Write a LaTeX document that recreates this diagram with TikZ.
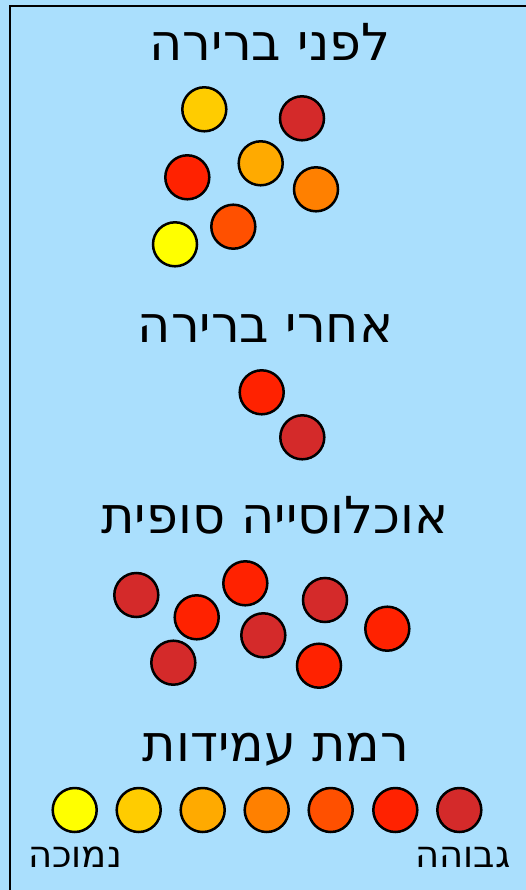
\documentclass[tikz,border=0pt]{standalone}
\usepackage{fontspec}
\TeXXeTstate=1
\newfontfamily\heb[Script=Hebrew]{DejaVu Sans}
\definecolor{bgblue}{HTML}{AADFFD}
\definecolor{cDark}{HTML}{D42A2A}
\definecolor{cRed}{HTML}{FF2200}
\definecolor{cOrRed}{HTML}{FF5000}
\definecolor{cOrange}{HTML}{FF8000}
\definecolor{cAmber}{HTML}{FFAA00}
\definecolor{cGold}{HTML}{FFCC00}
\definecolor{cYellow}{HTML}{FFFF00}
\begin{document}
\begin{tikzpicture}[x=1pt,y=-1pt,
  ball/.style={circle,draw=black,line width=2.5pt,minimum size=44pt,inner sep=0pt,fill=#1},
  title/.style={anchor=base,font=\heb\fontsize{51}{60}\selectfont,inner sep=0pt},
  lbl/.style={anchor=base,font=\heb\fontsize{37}{44}\selectfont,inner sep=0pt}]
\useasboundingbox (0,0) rectangle (525,890);
\fill[bgblue] (-5,-5) rectangle (535,895);
\draw[line width=2pt] (9.5,900) -- (9.5,6) -- (540,6);
% section 1
\node[title] (t1) at (270,61) {\beginR לפני ברירה\endR};
\node[ball=cGold] (a1) at (204.3,109.3) {};
\node[ball=cDark] (a2) at (302,118.3) {};
\node[ball=cRed] (a3) at (187.3,177.3) {};
\node[ball=cAmber] (a4) at (260.7,163.3) {};
\node[ball=cOrange] (a5) at (316,189.3) {};
\node[ball=cOrRed] (a6) at (233.3,226.7) {};
\node[ball=cYellow] (a7) at (175,244.3) {};
% section 2
\node[title] (t2) at (265.5,342) {\beginR אחרי ברירה\endR};
\node[ball=cRed] (b1) at (261.7,392.3) {};
\node[ball=cDark] (b2) at (302.3,437.3) {};
% section 3
\node[title] (t3) at (275,533) {\beginR אוכלוסייה סופית\endR};
\node[ball=cDark] (c1) at (136.3,595) {};
\node[ball=cRed] (c2) at (196.7,617.3) {};
\node[ball=cDark] (c3) at (173.3,662.7) {};
\node[ball=cRed] (c4) at (245.3,583.3) {};
\node[ball=cDark] (c5) at (263.3,635.3) {};
\node[ball=cDark] (c6) at (325,600) {};
\node[ball=cRed] (c7) at (319,665.7) {};
\node[ball=cRed] (c8) at (387.3,628.7) {};
% section 4
\node[title] (t4) at (276,761.5) {\beginR רמת עמידות\endR};
\node[ball=cYellow] (d1) at (74.7,810) {};
\node[ball=cGold] (d2) at (138.7,810) {};
\node[ball=cAmber] (d3) at (202.7,810) {};
\node[ball=cOrange] (d4) at (266.7,810) {};
\node[ball=cOrRed] (d5) at (330.7,810) {};
\node[ball=cRed] (d6) at (395.3,810) {};
\node[ball=cDark] (d7) at (459.3,810) {};
\node[lbl] (low) at (75,867.7) {\beginR נמוכה\endR};
\node[lbl] (high) at (463,867.7) {\beginR גבוהה\endR};
\end{tikzpicture}
\end{document}
